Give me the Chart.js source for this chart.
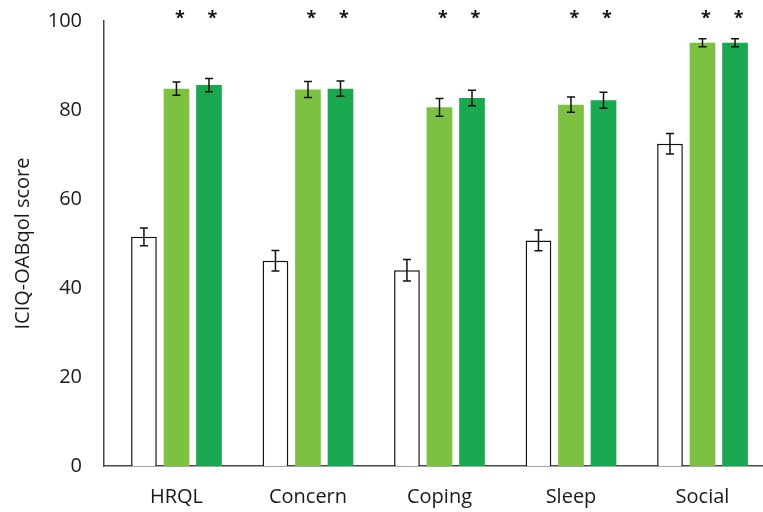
<!DOCTYPE html>
<html>
<head>
<meta charset="utf-8">
<script src="https://cdn.jsdelivr.net/npm/chart.js@4.4.1/dist/chart.umd.min.js"></script>
<style>
  html, body { margin: 0; padding: 0; background: #ffffff; overflow: hidden; }
  #wrap { width: 763px; height: 512px; position: relative; }
</style>
</head>
<body>
<div id="wrap"><canvas id="chart" width="763" height="512"></canvas></div>
<script>
// ICIQ-OABqol domain scores: baseline and two follow-up visits (mean ± SE)
const categories = ['HRQL', 'Concern', 'Coping', 'Sleep', 'Social'];
const seriesNames = ['Baseline', 'Follow-up 1', 'Follow-up 2'];
const baseline    = [51.5, 46.1, 44.0, 50.7, 72.4];
const followUp1   = [84.8, 84.6, 80.6, 81.2, 95.1];
const followUp2   = [85.6, 84.8, 82.7, 82.2, 95.1];
const baselineErr = [2.0, 2.3, 2.4, 2.35, 2.3];
const followUp1Err = [1.5, 1.8, 2.0, 1.7, 0.9];
const followUp2Err = [1.5, 1.7, 1.75, 1.8, 0.9];
// significance markers per series (true = '*')
const baselineSig  = [false, false, false, false, false];
const followUp1Sig = [true, true, true, true, true];
const followUp2Sig = [true, true, true, true, true];
const yTicks = [0, 20, 40, 60, 80, 100];

const FONT = '"Open Sans", "Liberation Sans", sans-serif';
const TEXT = '#1a1a1a';
const AXIS = '#4a4a4a';

function toPoints(vals) { return vals.map((v, i) => ({ x: i, y: v })); }

const errorBars = {
  id: 'errorBars',
  afterDatasetsDraw(chart) {
    const { ctx, scales: { y } } = chart;
    ctx.save();
    ctx.strokeStyle = '#111111';
    ctx.lineWidth = 1.5;
    chart.data.datasets.forEach((ds, di) => {
      const meta = chart.getDatasetMeta(di);
      meta.data.forEach((bar, i) => {
        const v = ds.data[i].y, e = ds.errors[i];
        const x = bar.x;
        const yHi = y.getPixelForValue(v + e), yLo = y.getPixelForValue(v - e);
        const cap = 4;
        ctx.beginPath();
        ctx.moveTo(x, yHi); ctx.lineTo(x, yLo);
        ctx.moveTo(x - cap, yHi); ctx.lineTo(x + cap, yHi);
        ctx.moveTo(x - cap, yLo); ctx.lineTo(x + cap, yLo);
        ctx.stroke();
        if (ds.sig[i]) {
          ctx.fillStyle = '#111111';
          ctx.font = 'bold 18px ' + FONT;
          ctx.textAlign = 'center';
          ctx.textBaseline = 'middle';
          ctx.fillText('*', x + 3.5, chart.chartArea.top - 2);
        }
      });
    });
    ctx.restore();
  }
};

new Chart(document.getElementById('chart'), {
  type: 'bar',
  data: {
    datasets: [
      { label: seriesNames[0], data: toPoints(baseline), errors: baselineErr, sig: baselineSig,
        backgroundColor: '#ffffff', borderColor: '#111111', borderWidth: 1.5 },
      { label: seriesNames[1], data: toPoints(followUp1), errors: followUp1Err, sig: followUp1Sig,
        backgroundColor: '#7cc142', borderWidth: 0 },
      { label: seriesNames[2], data: toPoints(followUp2), errors: followUp2Err, sig: followUp2Sig,
        backgroundColor: '#19a84f', borderWidth: 0 }
    ]
  },
  options: {
    responsive: false,
    animation: false,
    events: [],
    categoryPercentage: 0.742,
    barPercentage: 0.79,
    layout: { padding: { top: 21, right: 0, bottom: 0, left: 0 } },
    plugins: { legend: { display: false }, tooltip: { enabled: false } },
    scales: {
      x: {
        type: 'linear',
        offset: false,
        min: -0.551,
        max: 4.46,
        grid: { display: false, drawTicks: false },
        border: { display: true, color: AXIS, width: 1.5 },
        afterBuildTicks(scale) { scale.ticks = categories.map((c, i) => ({ value: i })); },
        afterFit(scale) { scale.height = 46; },
        ticks: {
          autoSkip: false,
          maxRotation: 0,
          padding: 19,
          color: TEXT,
          font: { family: FONT, size: 20 },
          callback: (v) => categories[v]
        }
      },
      y: {
        min: 0,
        max: 100,
        grid: { display: false, drawTicks: false },
        border: { display: true, color: AXIS, width: 1.5 },
        afterBuildTicks(scale) { scale.ticks = yTicks.map(v => ({ value: v })); },
        afterFit(scale) {
          scale.width = 104;
          // the end labels fit inside the layout padding
          scale.paddingTop = 0;
          scale.paddingBottom = 0;
        },
        ticks: {
          padding: 22,
          color: TEXT,
          font: { family: FONT, size: 20 }
        },
        title: {
          display: true,
          text: 'ICIQ-OABqol score',
          color: TEXT,
          font: { family: FONT, size: 20 },
          padding: { top: 11, bottom: 0 }
        }
      }
    }
  },
  plugins: [errorBars]
});
</script>
</body>
</html>
